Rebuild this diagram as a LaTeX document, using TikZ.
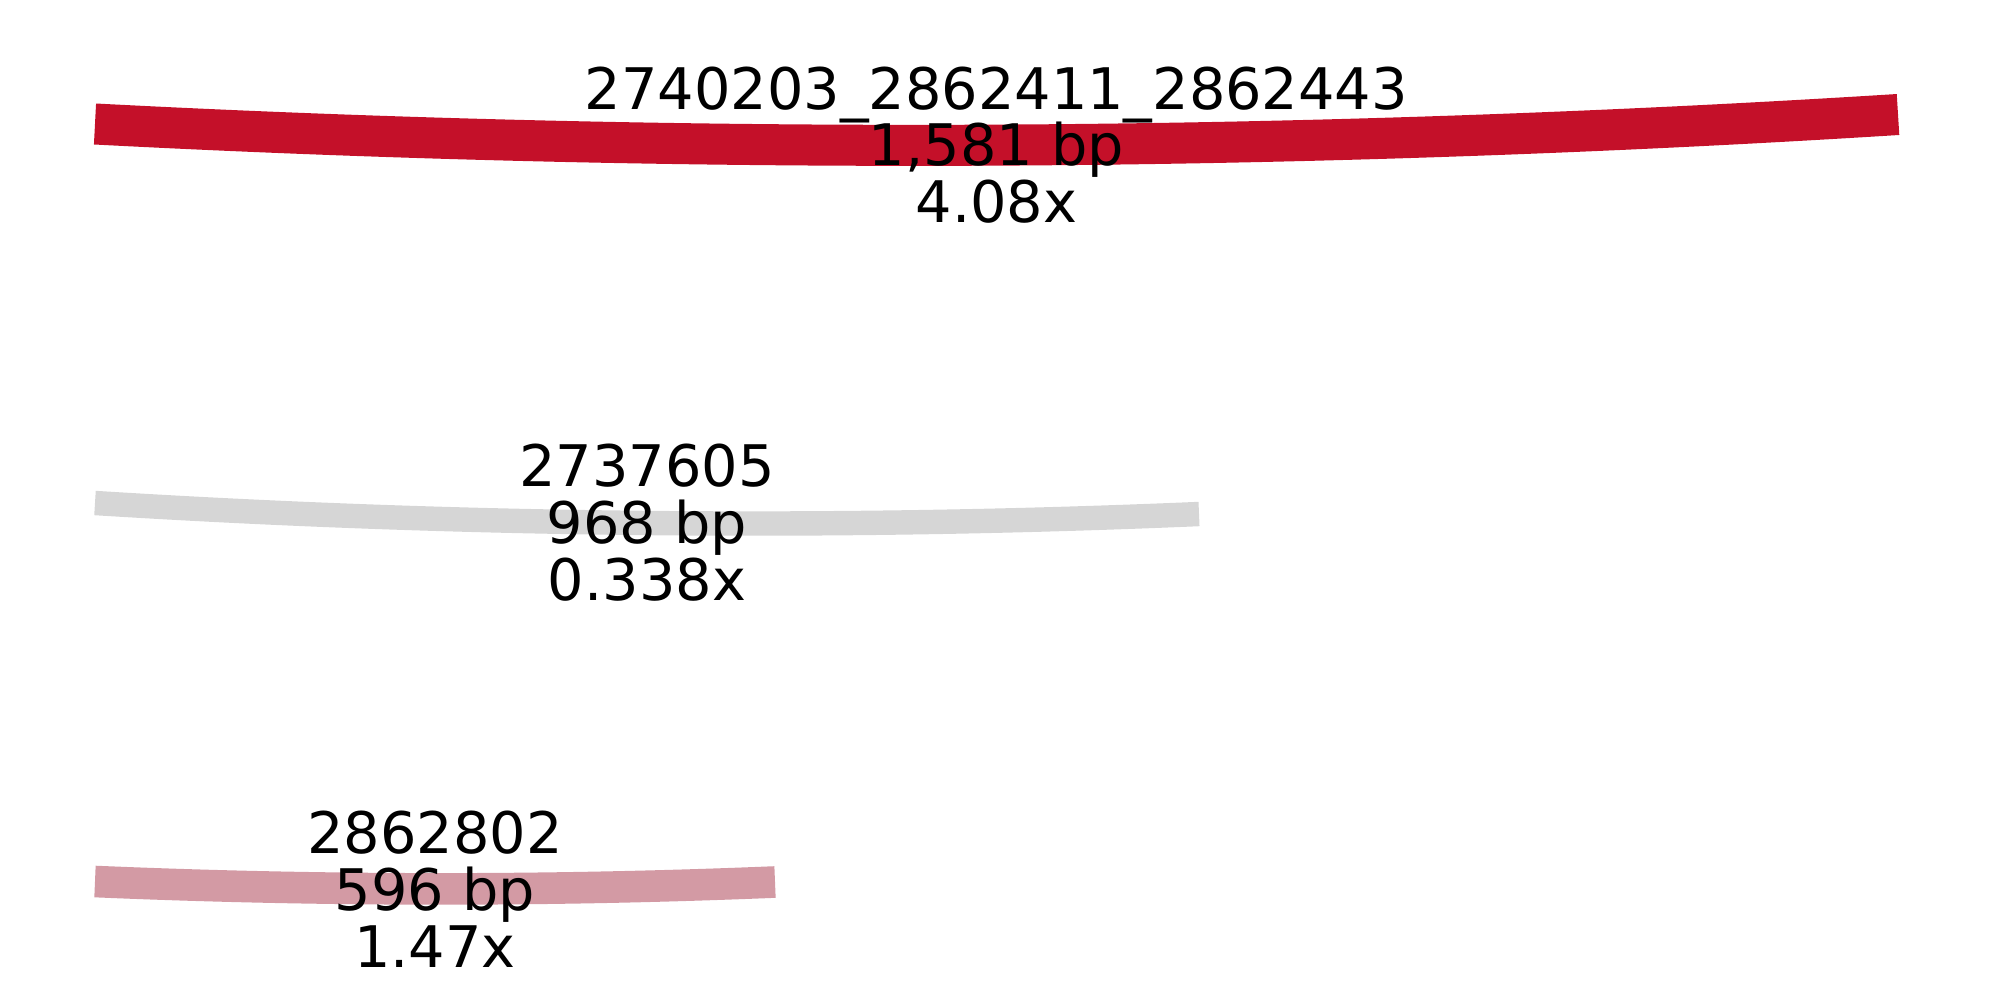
\documentclass[tikz,border=0pt]{standalone}
\usepackage{fontspec}
\setmainfont{DejaVu Sans}
\usepackage{tikz}
\usetikzlibrary{calc}
\definecolor{redx}{HTML}{C41029}
\definecolor{greyx}{HTML}{D6D6D6}
\definecolor{pinkx}{HTML}{D39AA4}
\setlength{\lineskiplimit}{-30pt}
\tikzset{
  seg/.style={line cap=butt},
  lbl/.style={pos=0.5,align=center,inner sep=0pt,text=black,font=\fontsize{16.3}{16.2}\selectfont}
}
\begin{document}
\begin{tikzpicture}[x=0.01cm,y=-0.01cm]
\useasboundingbox (0,0) rectangle (1994,1000);
\coordinate (A1) at (95,124); \coordinate (A2) at (1898,114.5);
\coordinate (Ac) at (996.5,171);
\coordinate (B1) at (95,503); \coordinate (B2) at (1199,514);
\coordinate (Bc) at (647,537.5);
\coordinate (C1) at (95,881.5); \coordinate (C2) at (775,882);
\coordinate (Cc) at (435,896);
% quadratic arcs, written as cubic controls
\draw[seg,redx,line width=4.1mm] (A1) .. controls ($(A1)!2/3!(Ac)$) and ($(A2)!2/3!(Ac)$) .. (A2)
  node[lbl] (a) {2740203\_2862411\_2862443\\1,581 bp\\4.08x};
\draw[seg,greyx,line width=2.44mm] (B1) .. controls ($(B1)!2/3!(Bc)$) and ($(B2)!2/3!(Bc)$) .. (B2)
  node[lbl] (b) {2737605\\968 bp\\0.338x};
\draw[seg,pinkx,line width=3.16mm] (C1) .. controls ($(C1)!2/3!(Cc)$) and ($(C2)!2/3!(Cc)$) .. (C2)
  node[lbl] (c) {2862802\\596 bp\\1.47x};
\end{tikzpicture}
\end{document}
